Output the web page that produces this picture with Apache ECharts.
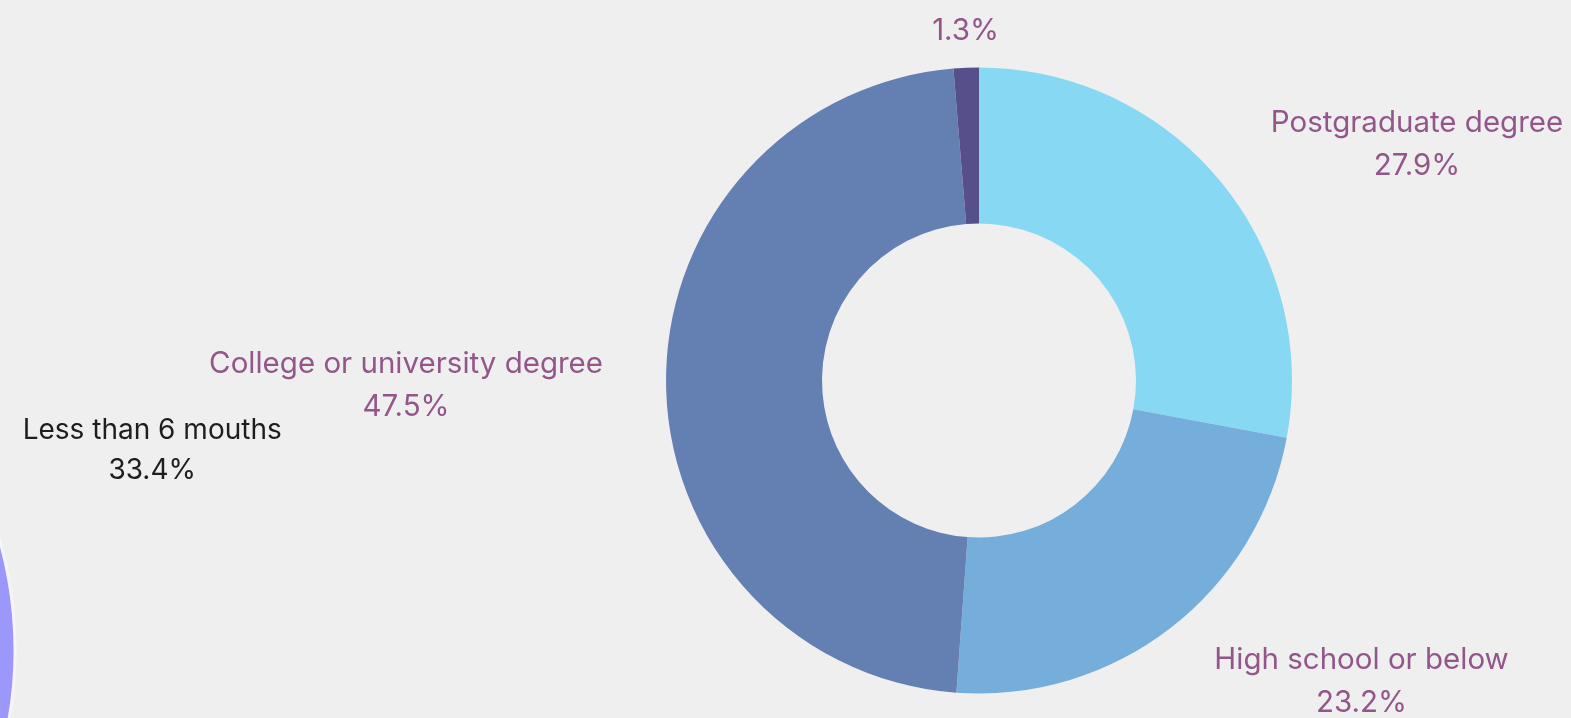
<!DOCTYPE html>
<html>
<head>
<meta charset="utf-8">
<script src="https://cdn.jsdelivr.net/npm/echarts@6/dist/echarts.min.js"></script>
<style>
  html, body { margin: 0; padding: 0; background: #efefef; }
  #chart { width: 1571px; height: 718px; }
</style>
</head>
<body>
<div id="chart"></div>
<script>
// ---- data ----
const educationNames = ['Postgraduate degree', 'High school or below', 'College or university degree', 'Other'];
const educationValues = [27.9, 23.2, 47.5, 1.3];
const educationColors = ['#87d8f3', '#75aedb', '#6480b3', '#564f89'];

const durationNames = ['Less than 6 mouths'];
const durationValues = [33.4];

const FONT = 'Inter';
const labelColor = '#925689';
const lineLengths = [60, 64, 58, 40];

const chart = echarts.init(document.getElementById('chart'));

const eduData = educationNames.map((n, i) => {
  const item = {
    name: n,
    value: educationValues[i],
    itemStyle: { color: educationColors[i] },
    labelLine: { length: lineLengths[i], length2: 0 }
  };
  if (i === 3) {
    item.label = { formatter: '{n|{c}%}' };
  }
  return item;
});

const durData = durationNames.map((n, i) => ({ name: n, value: durationValues[i] }));

chart.setOption({
  backgroundColor: '#efefef',
  animation: false,
  series: [
    {
      type: 'pie',
      center: [979, 380.5],
      radius: [157, 313],
      startAngle: 90,
      clockwise: true,
      avoidLabelOverlap: false,
      data: eduData,
      label: {
        show: true,
        position: 'outside',
        formatter: '{n|{b}}\n{n|{c}%}',
        rich: {
          n: { fontFamily: FONT, fontSize: 29.5, lineHeight: 43, color: labelColor, align: 'center' }
        }
      },
      labelLine: { show: false, length: 60, length2: 0 },
      labelLayout: function (p) {
        if (p.dataIndex === 3) return { align: 'center', dx: 6, dy: 3 };
        return { dy: 3 };
      }
    },
    {
      type: 'pie',
      center: [-385, 650],
      radius: 400,
      startAngle: 206.8,
      clockwise: true,
      avoidLabelOverlap: false,
      data: durData,
      itemStyle: { color: '#9c97fb', borderColor: '#f6f4ff', borderWidth: 3 },
      label: {
        show: true,
        position: 'outside',
        formatter: '{n|{b}}\n{n|{c}%}',
        rich: {
          n: { fontFamily: FONT, fontSize: 28, lineHeight: 40, color: '#1e1e1e', align: 'center' }
        }
      },
      labelLine: { show: false, length: 50, length2: 0 },
      labelLayout: function () { return { dx: 1, dy: 3 }; }
    }
  ]
});
</script>
</body>
</html>
